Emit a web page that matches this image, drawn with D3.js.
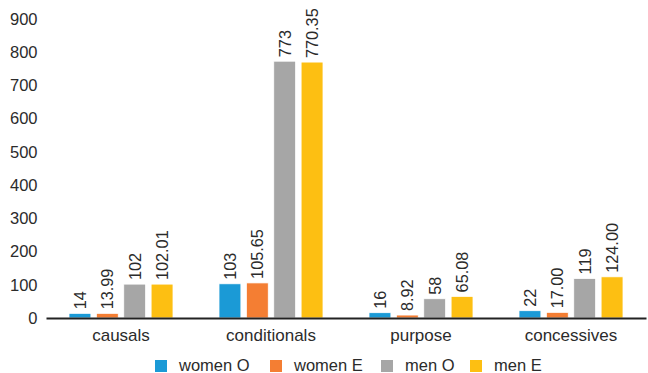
<!DOCTYPE html>
<html>
<head>
<meta charset="utf-8">
<script src="https://cdn.jsdelivr.net/npm/d3@7"></script>
<style>
  html, body { margin: 0; padding: 0; background: #fff; }
  svg { display: block; font-family: "Liberation Sans", Arial, sans-serif; }
</style>
</head>
<body>
<svg id="chart" width="648" height="373"></svg>
<script>
// Clause types and the four series (observed / expected, by gender)
const categories = ["causals", "conditionals", "purpose", "concessives"];
const seriesNames = ["women O", "women E", "men O", "men E"];
const womenO = [14, 103, 16, 22];
const womenE = [13.99, 105.65, 8.92, 17.00];
const menO = [102, 773, 58, 119];
const menE = [102.01, 770.35, 65.08, 124.00];
// How each series prints its value label
const labelDecimals = [0, 2, 0, 2];
const yTicks = [0, 100, 200, 300, 400, 500, 600, 700, 800, 900];
const colors = ["#1b9ad6", "#f47e33", "#a6a6a6", "#fdbf12"];

const seriesValues = [womenO, womenE, menO, menE];

const svg = d3.select("#chart");
const plot = { left: 46, right: 646, top: 19, bottom: 318 };
const textColor = "#2b2b2b";

const x0 = d3.scaleBand().domain(categories).range([plot.left, plot.right]);
const x1 = d3.scaleBand().domain(seriesNames).range([23, 127]).paddingInner(0.2).paddingOuter(0);
const y = d3.scaleLinear().domain([0, 900]).range([plot.bottom, plot.top]);
const color = d3.scaleOrdinal().domain(seriesNames).range(colors);

// y axis labels, no line or tick marks
const yAxis = svg.append("g")
  .attr("transform", `translate(${plot.left - 8.5},0)`)
  .call(d3.axisLeft(y).tickValues(yTicks).tickSize(0).tickPadding(0).tickFormat(d3.format("d")));
yAxis.select(".domain").remove();
yAxis.selectAll("text")
  .attr("font-size", 16.5)
  .attr("font-family", "Liberation Sans, Arial, sans-serif")
  .attr("fill", textColor);

// bars
const rows = [];
categories.forEach((c, ci) => {
  seriesNames.forEach((s, si) => {
    rows.push({ cat: c, series: s, si, value: seriesValues[si][ci] });
  });
});

const groups = svg.append("g");
groups.selectAll("rect")
  .data(rows)
  .join("rect")
  .attr("x", d => x0(d.cat) + x1(d.series))
  .attr("y", d => y(d.value))
  .attr("width", x1.bandwidth())
  .attr("height", d => y(0) - y(d.value))
  .attr("fill", d => color(d.series))
  .attr("stroke", "#fff")
  .attr("stroke-width", 0.8);

// rotated value labels above each bar
groups.selectAll("text.val")
  .data(rows)
  .join("text")
  .attr("class", "val")
  .attr("transform", d => {
    const cx = x0(d.cat) + x1(d.series) + x1.bandwidth() / 2;
    return `translate(${cx + 6},${y(d.value) - 4}) rotate(-90)`;
  })
  .attr("font-size", 16.3)
  .attr("fill", textColor)
  .attr("text-anchor", "start")
  .text(d => d.value.toFixed(labelDecimals[d.si]));

// x axis baseline and category labels
const xAxis = svg.append("g")
  .attr("transform", `translate(0,${plot.bottom})`)
  .call(d3.axisBottom(x0).tickSize(0).tickPadding(11));
xAxis.select(".domain")
  .attr("stroke", "#222")
  .attr("stroke-width", 2);
xAxis.selectAll("text")
  .attr("font-size", 17)
  .attr("font-family", "Liberation Sans, Arial, sans-serif")
  .attr("fill", textColor);

// legend
const legendX = [155, 270, 381, 470];
const legend = svg.append("g").attr("transform", "translate(0,360)");
const items = legend.selectAll("g")
  .data(seriesNames)
  .join("g")
  .attr("transform", (d, i) => `translate(${legendX[i]},0)`);
items.append("rect")
  .attr("width", 12).attr("height", 12)
  .attr("fill", d => color(d));
items.append("text")
  .attr("x", 24).attr("y", 10.5)
  .attr("font-size", 16.5)
  .attr("fill", textColor)
  .text(d => d);
</script>
</body>
</html>
